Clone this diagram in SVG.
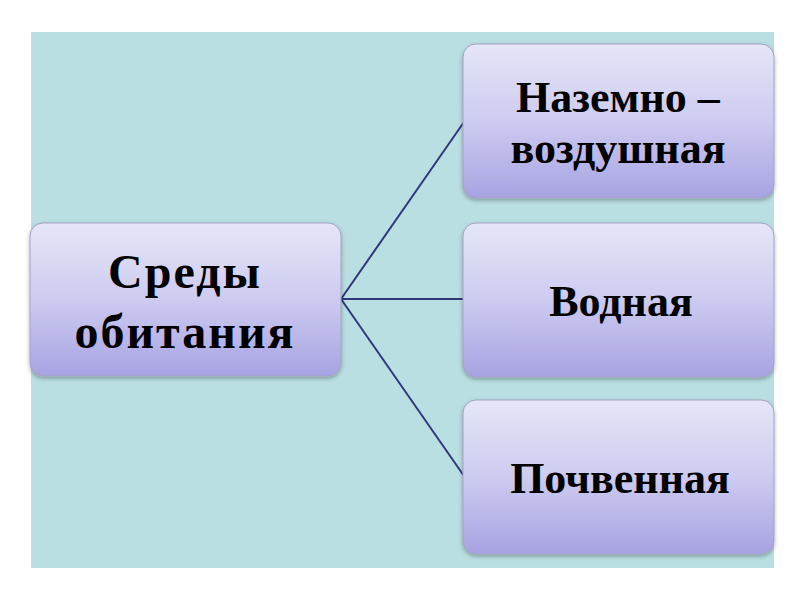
<svg xmlns="http://www.w3.org/2000/svg" width="800" height="600" viewBox="0 0 800 600">
<defs>
<linearGradient id="g" x1="0" y1="0" x2="0" y2="1">
<stop offset="0" stop-color="#e6e6f8"/>
<stop offset="0.5" stop-color="#cdcbf0"/>
<stop offset="1" stop-color="#a7a3e3"/>
</linearGradient>
<filter id="sh" x="-10%" y="-10%" width="120%" height="130%">
<feDropShadow dx="0" dy="2" stdDeviation="2" flood-color="#000" flood-opacity="0.3"/>
</filter>
<style>
.box{fill:url(#g);stroke:#a3a3c0;stroke-width:1;filter:url(#sh)}
.t{font-family:"Liberation Serif","Times New Roman",serif;font-weight:bold;fill:#000;text-anchor:middle}
.c{stroke:#2f3879;stroke-width:2;fill:none}
</style>
</defs>
<rect width="800" height="600" fill="#ffffff"/>
<rect x="31" y="32" width="743" height="536" fill="#b9dfe2"/>
<g id="connectors">
<line class="c" x1="341" y1="299" x2="464" y2="122"/>
<line class="c" x1="341" y1="299" x2="464" y2="299"/>
<line class="c" x1="341" y1="299" x2="464" y2="476"/>
</g>
<g id="node-sredy">
<rect class="box" x="30" y="223" width="311" height="153" rx="13"/>
<text class="t" x="185" y="288" font-size="48" letter-spacing="2">Среды</text>
<text class="t" x="185" y="348" font-size="48" letter-spacing="2">обитания</text>
</g>
<g id="node-nazemno">
<rect class="box" x="463" y="44" width="311" height="154" rx="13"/>
<text class="t" x="618" y="112" font-size="44">Наземно –</text>
<text class="t" x="618" y="163" font-size="44">воздушная</text>
</g>
<g id="node-vodnaya">
<rect class="box" x="463" y="223" width="311" height="154" rx="13"/>
<text class="t" x="621" y="316" font-size="44">Водная</text>
</g>
<g id="node-pochvennaya">
<rect class="box" x="463" y="400" width="311" height="154" rx="13"/>
<text class="t" x="620" y="493" font-size="44">Почвенная</text>
</g>
</svg>
